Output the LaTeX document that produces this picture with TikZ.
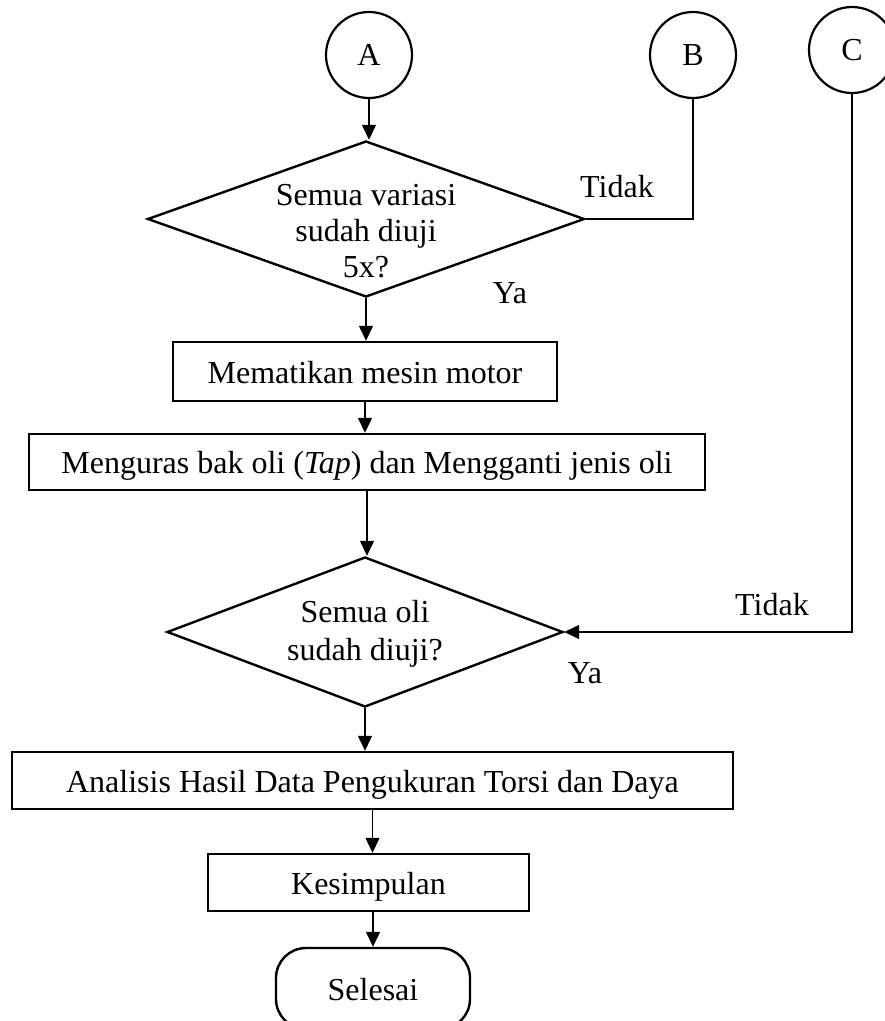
\documentclass[tikz,border=0pt]{standalone}
\usepackage{fontspec}
\setmainfont{Liberation Serif}
\usetikzlibrary{shapes.geometric,arrows.meta}
\begin{document}
\begin{tikzpicture}[x=1pt,y=-1pt,
  every node/.style={font=\fontsize{32}{36}\selectfont},
  offpage/.style={circle, draw, line width=2.2pt, minimum size=86pt, inner sep=0pt},
  decision/.style={diamond, draw, line width=2.4pt, inner sep=0pt},
  qtext/.style={align=center, inner sep=0pt},
  process/.style={rectangle, draw, line width=2.4pt, inner sep=0pt, text height=23pt, text depth=0pt},
  terminal/.style={rectangle, rounded corners=30pt, draw, line width=2.4pt, inner sep=0pt, text height=23pt, text depth=0pt},
  lbl/.style={inner sep=0pt},
  flow/.style={line width=1.3pt, -{Triangle[length=15pt,width=14pt]}},
  link/.style={line width=1.3pt}
]
\useasboundingbox (0,0) rectangle (885,1021);

% off-page connectors
\node[offpage] (A) at (369,55) {A};
\node[offpage] (B) at (693,55) {B};
\node[offpage] (C) at (852,50) {C};

% first decision
\node[decision, minimum width=437pt, minimum height=156pt] (d1) at (366,219) {};
\node[qtext] (d1t) at (366,231) {Semua variasi\\sudah diuji\\5x?};

% process steps
\node[process, minimum width=384pt, minimum height=59pt] (m1) at (365,371.5) {Mematikan mesin motor};
\node[process, minimum width=676pt, minimum height=56pt] (m2) at (367,462) {Menguras bak oli (\textit{Tap}) dan Mengganti jenis oli};

% second decision
\node[decision, minimum width=396pt, minimum height=150pt] (d2) at (365,632) {};
\node[qtext, font=\fontsize{32}{38}\selectfont] (d2t) at (365,633.5) {Semua oli\\sudah diuji?};

\node[process, minimum width=721pt, minimum height=57pt] (r3) at (372.5,780.5) {Analisis Hasil Data Pengukuran Torsi dan Daya};
\node[process, minimum width=321pt, minimum height=57pt] (r4) at (368.5,882.5) {Kesimpulan};
\node[terminal, minimum width=194pt, minimum height=81pt] (end) at (373,988.5) {Selesai};

% branch labels
\node[lbl, anchor=base] (t1) at (617,197) {Tidak};
\node[lbl, anchor=base] (y1) at (510,303) {Ya};
\node[lbl, anchor=base] (t2) at (772,615) {Tidak};
\node[lbl, anchor=base] (y2) at (585,683) {Ya};

% connectors
\draw[flow] (A.south) -- (A.south |- d1.north);
\draw[link] (B.south) |- (d1.east);
\draw[flow] (d1.south) -- (d1.south |- m1.north);
\draw[flow] (m1.south) -- (m1.south |- m2.north);
\draw[flow] (m2.south) -- (m2.south |- d2.north);
\draw[flow] (C.south) |- (d2.east);
\draw[flow] (d2.south) -- (d2.south |- r3.north);
\draw[flow] (r3.south) -- (r3.south |- r4.north);
\draw[flow] (r4.south -| end.north) -- (end.north);
\end{tikzpicture}
\end{document}
